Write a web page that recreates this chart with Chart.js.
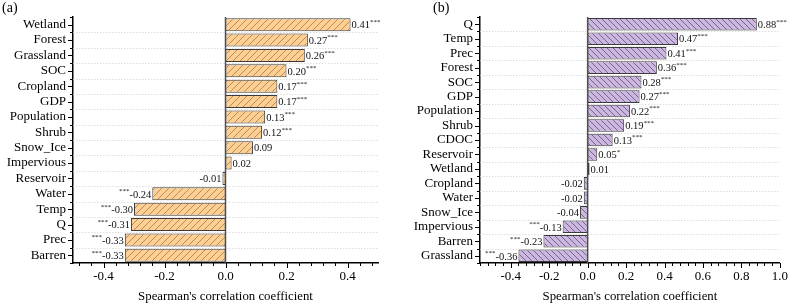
<!DOCTYPE html>
<html>
<head>
<meta charset="utf-8">
<script src="https://cdn.jsdelivr.net/npm/chart.js@4.4.0/dist/chart.umd.min.js"></script>
<style>
  body { margin: 0; background: #fff; }
  #wrap { position: relative; width: 794px; height: 306px; }
  canvas { position: absolute; top: 0; }
  .tag { position: absolute; top: 0; font: 14px "Liberation Serif", "Times New Roman", serif; color: #000; }
</style>
</head>
<body>
<div id="wrap">
  <canvas id="chartA" width="397" height="306" style="left:0"></canvas>
  <canvas id="chartB" width="397" height="306" style="left:397px"></canvas>
  <div class="tag" style="left:2px">(a)</div>
  <div class="tag" style="left:433px">(b)</div>
</div>
<script>
// panel (a)
var namesA = ["Wetland", "Forest", "Grassland", "SOC", "Cropland", "GDP", "Population", "Shrub",
  "Snow_Ice", "Impervious", "Reservoir", "Water", "Temp", "Q", "Prec", "Barren"];
var valuesA = [0.41, 0.27, 0.26, 0.20, 0.17, 0.17, 0.13, 0.12, 0.09, 0.02, -0.01, -0.24, -0.30, -0.31, -0.33, -0.33];
var starsA = ["***", "***", "***", "***", "***", "***", "***", "***", "", "", "", "***", "***", "***", "***", "***"];
var ticksA = [-0.4, -0.2, 0.0, 0.2, 0.4];

// panel (b)
var namesB = ["Q", "Temp", "Prec", "Forest", "SOC", "GDP", "Population", "Shrub", "CDOC",
  "Reservoir", "Wetland", "Cropland", "Water", "Snow_Ice", "Impervious", "Barren", "Grassland"];
var valuesB = [0.88, 0.47, 0.41, 0.36, 0.28, 0.27, 0.22, 0.19, 0.13, 0.05, 0.01, -0.02, -0.02, -0.04, -0.13, -0.23, -0.36];
var starsB = ["***", "***", "***", "***", "***", "***", "***", "***", "***", "*", "", "", "", "", "***", "***", "***"];
var ticksB = [-0.4, -0.2, 0.0, 0.2, 0.4, 0.6, 0.8, 1.0];

var SERIF = '"Liberation Serif", "Times New Roman", serif';

function hatch(bg, line, gap, back) {
  var c = document.createElement("canvas");
  c.width = gap; c.height = gap;
  var g = c.getContext("2d");
  g.fillStyle = bg;
  g.fillRect(0, 0, gap, gap);
  g.strokeStyle = line;
  g.lineWidth = 0.8;
  g.beginPath();
  if (back) {
    g.moveTo(0, 0); g.lineTo(gap, gap);
    g.moveTo(-1, gap - 1); g.lineTo(1, gap + 1);
    g.moveTo(gap - 1, -1); g.lineTo(gap + 1, 1);
  } else {
    g.moveTo(0, gap); g.lineTo(gap, 0);
    g.moveTo(-1, 1); g.lineTo(1, -1);
    g.moveTo(gap - 1, gap + 1); g.lineTo(gap + 1, gap - 1);
  }
  g.stroke();
  return g.createPattern(c, "repeat");
}

// gridlines, zero line, tick marks and value labels
var decor = {
  id: "decor",
  beforeDatasetsDraw: function(chart) {
    var ctx = chart.ctx, a = chart.chartArea, x = chart.scales.x, y = chart.scales.y;
    var n = chart.data.labels.length;
    var step = (y.getPixelForValue(1) - y.getPixelForValue(0));
    ctx.save();
    ctx.strokeStyle = "#d6d6d6";
    ctx.lineWidth = 0.8;
    ctx.setLineDash([1.5, 1.5]);
    for (var i = 0; i < n - 1; i++) {
      var py = Math.round(y.getPixelForValue(i) + step / 2) + 0.5;
      ctx.beginPath(); ctx.moveTo(a.left, py); ctx.lineTo(a.right, py); ctx.stroke();
    }
    ctx.setLineDash([]);
    var zx = x.getPixelForValue(0);
    ctx.strokeStyle = "#555";
    ctx.lineWidth = 1.5;
    ctx.beginPath(); ctx.moveTo(zx, a.top); ctx.lineTo(zx, a.bottom); ctx.stroke();
    ctx.restore();
  },
  afterDraw: function(chart) {
    var ctx = chart.ctx, a = chart.chartArea, x = chart.scales.x, y = chart.scales.y;
    var opt = chart.options.plugins.decor;
    var n = chart.data.labels.length;
    var step = (y.getPixelForValue(1) - y.getPixelForValue(0));
    ctx.save();
    ctx.strokeStyle = "#000";
    ctx.lineWidth = 1;
    // y tick marks
    for (var i = 0; i < n; i++) {
      var py = Math.round(y.getPixelForValue(i)) + 0.5;
      ctx.beginPath(); ctx.moveTo(a.left, py); ctx.lineTo(a.left - 5, py); ctx.stroke();
    }
    for (var j = 0; j <= n; j++) {
      var qy = Math.round(y.getPixelForValue(j) - step / 2) + 0.5;
      ctx.beginPath(); ctx.moveTo(a.left, qy); ctx.lineTo(a.left - 3, qy); ctx.stroke();
    }
    // x tick marks
    var minor = 0.04;
    for (var k = Math.ceil(x.min / minor - 1e-6); k * minor <= x.max + 1e-6; k++) {
      var v = k * minor;
      var px = Math.round(x.getPixelForValue(v)) + 0.5;
      ctx.beginPath(); ctx.moveTo(px, a.bottom); ctx.lineTo(px, a.bottom + 3); ctx.stroke();
    }
    opt.major.forEach(function(v) {
      var px = Math.round(x.getPixelForValue(v)) + 0.5;
      ctx.beginPath(); ctx.moveTo(px, a.bottom); ctx.lineTo(px, a.bottom + 5); ctx.stroke();
    });
    // value labels
    var meta = chart.getDatasetMeta(0);
    var vals = chart.data.datasets[0].data;
    ctx.fillStyle = "#111";
    ctx.textBaseline = "middle";
    meta.data.forEach(function(bar, i) {
      var txt = vals[i].toFixed(2);
      var st = opt.stars[i];
      ctx.font = "10.5px " + SERIF;
      var tw = ctx.measureText(txt).width;
      if (vals[i] >= 0) {
        ctx.textAlign = "left";
        ctx.fillText(txt, bar.x + 1, bar.y + 1);
        ctx.font = "7px " + SERIF;
        ctx.fillText(st, bar.x + 1 + tw, bar.y - 2.5);
      } else {
        ctx.textAlign = "right";
        ctx.fillText(txt, bar.x - 1, bar.y + 1);
        ctx.font = "7px " + SERIF;
        ctx.fillText(st, bar.x - 1 - tw, bar.y - 2.5);
      }
    });
    ctx.restore();
  }
};

function makeChart(id, names, values, stars, ticks, min, max, fill, yWidth, padRight, pct) {
  return new Chart(document.getElementById(id), {
    type: "bar",
    data: {
      labels: names,
      datasets: [{
        data: values,
        backgroundColor: fill,
        borderColor: "#3a3a3a",
        borderWidth: 1,
        borderSkipped: false,
        barPercentage: pct,
        categoryPercentage: 1
      }]
    },
    options: {
      indexAxis: "y",
      responsive: false,
      animation: false,
      events: [],
      layout: { padding: { left: 0, right: padRight, top: 17, bottom: 0 } },
      plugins: {
        legend: { display: false },
        tooltip: { enabled: false },
        decor: { stars: stars, major: ticks }
      },
      scales: {
        x: {
          type: "linear",
          min: min,
          max: max,
          afterBuildTicks: function(s) { s.ticks = ticks.map(function(v) { return { value: v }; }); },
          afterFit: function(s) { s.height = 43; },
          grid: { display: false, drawTicks: false },
          border: { display: true, color: "#000", width: 1.5 },
          ticks: {
            padding: 6,
            color: "#000",
            font: { family: SERIF, size: 13 },
            callback: function(v) { return v.toFixed(1); }
          },
          title: {
            display: true,
            text: "Spearman's correlation coefficient",
            color: "#000",
            font: { family: SERIF, size: 12.8 },
            padding: { top: 0, bottom: 2 }
          }
        },
        y: {
          type: "category",
          offset: true,
          afterFit: function(s) { s.width = yWidth; },
          grid: { display: false, drawTicks: false },
          border: { display: true, color: "#000", width: 1.5 },
          ticks: {
            padding: 7,
            color: "#000",
            autoSkip: false,
            font: { family: SERIF, size: 13 }
          }
        }
      }
    },
    plugins: [decor]
  });
}

var fillA = hatch("#fdcf93", "#a57a4c", 7, false);
var fillB = hatch("#cbb7df", "#5f5075", 6, true);

makeChart("chartA", namesA, valuesA, starsA, ticksA, -0.5, 0.5, fillA, 73, 19, 0.85);
makeChart("chartB", namesB, valuesB, starsB, ticksB, -0.56, 1.0, fillB, 83, 8, 0.87);
</script>
</body>
</html>
